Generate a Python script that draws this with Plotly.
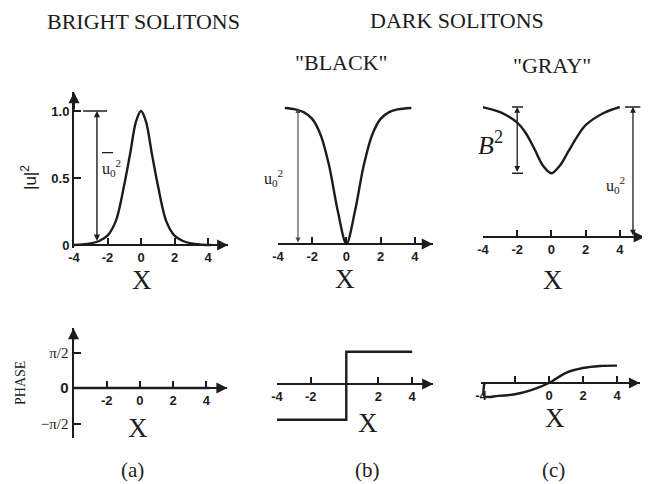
import plotly.graph_objects as go

# the page body has an 8px margin, so the figure is drawn 8px in from the window corner
OFF = 8
W, H = 650 - OFF, 484 - OFF
INK = "#1c1c1c"
SERIF = "Liberation Serif"
SANS = "Liberation Sans"

# |u|^2 profiles
bright_x = [-4.0, -3.5, -3.0, -2.5, -2.0, -1.5, -1.0, -0.65, -0.3, 0.0, 0.3, 0.65, 1.0, 1.5, 2.0, 2.5, 3.0, 3.5, 4.2]
bright_y = [0.0, 0.004, 0.012, 0.03, 0.07, 0.18, 0.45, 0.68, 0.92, 1.0, 0.92, 0.68, 0.45, 0.18, 0.07, 0.03, 0.012, 0.004, 0.0]

black_x = [-3.6, -3.0, -2.5, -2.0, -1.5, -1.0, -0.5, 0.0, 0.5, 1.0, 1.5, 2.0, 2.5, 3.0, 3.8]
black_y = [1.0, 0.99, 0.97, 0.92, 0.8, 0.57, 0.24, 0.0, 0.24, 0.57, 0.8, 0.92, 0.97, 0.99, 1.0]

gray_x = [-4.05, -3.0, -2.0, -1.5, -1.0, -0.5, 0.0, 0.5, 1.0, 1.5, 2.0, 3.0, 4.0]
gray_y = [1.0, 0.96, 0.88, 0.8, 0.68, 0.55, 0.49, 0.55, 0.66, 0.77, 0.86, 0.95, 1.0]

# phase (in units of pi/2)
phase_a_x = [-4.0, 4.2]
phase_a_y = [0.0, 0.0]
phase_b_x = [-4.0, 0.1, 0.1, 4.0]
phase_b_y = [-1.05, -1.05, 0.95, 0.95]
phase_c_x = [-3.8, -3.8, -3.0, -2.0, -1.0, 0.0, 1.0, 2.0, 3.0, 4.0]
phase_c_y = [0.0, -0.39, -0.38, -0.33, -0.2, 0.0, 0.3, 0.44, 0.5, 0.51]

U0_SQ = 1.0
B_SQ = 0.51

# tick labels
ticks_full = [-4, -2, 0, 2, 4]
ticks_full_text = ["-4", "-2", "0", "2", "4"]
ticks_pa = [-2, 0, 2, 4]
ticks_pa_text = ["-2", "0", "2", "4"]
ticks_pb = [-4, -2, 2, 4]
ticks_pb_text = ["-4", "-2", "2", "4"]
ticks_pc_text = ["-4", "", "0", "2", "4"]
amp_ticks = [0, 0.5, 1.0]
amp_ticks_text = ["0", "0.5", "1.0"]
phase_ticks = [-1, 0, 1]
phase_ticks_text = ["<span style='font-family:Liberation Serif;font-weight:normal'>−π/2</span>", "0",
                    "<span style='font-family:Liberation Serif;font-weight:normal'>π/2</span>"]

# panel geometry (reference px): px of x=-4, px per x unit, x range, px of y=0, px per y unit, y range
PANELS = [
    ("", dict(x0=74, xu=16.75, xr=(-4, 5.2), y0=245, yu=134, yr=(-0.02, 1.14))),
    ("2", dict(x0=278, xu=17.1, xr=(-4, 5.05), y0=244, yu=136, yr=(-0.04, 1.06))),
    ("3", dict(x0=483, xu=17.1, xr=(-4, 5.45), y0=237, yu=130, yr=(-0.04, 1.06))),
    ("4", dict(x0=73.5, xu=16.6, xr=(-4, 5.27), y0=388, yu=35.5, yr=(-1.4, 1.68))),
    ("5", dict(x0=277, xu=16.9, xr=(-4, 5.24), y0=384, yu=34, yr=(-1.2, 1.1))),
    ("6", dict(x0=481, xu=17, xr=(-4, 5.35), y0=383, yu=34, yr=(-0.6, 0.7))),
]


def fx(px):
    return (px - OFF) / W


def fy(py):
    return 1 - (py - OFF) / H


tickfont = dict(family=SANS, size=13, color=INK, weight="bold")

fig = go.Figure()
layout = {}
for n, g in PANELS:
    xd = [fx(g["x0"] + (g["xr"][0] + 4) * g["xu"]), fx(g["x0"] + (g["xr"][1] + 4) * g["xu"])]
    yd = [fy(g["y0"] - g["yr"][0] * g["yu"]), fy(g["y0"] - g["yr"][1] * g["yu"])]
    layout["xaxis" + n] = dict(domain=xd, range=list(g["xr"]), anchor="free", position=fy(g["y0"]),
                               showline=True, linewidth=2, linecolor=INK, ticks="inside", ticklen=6,
                               tickwidth=2, tickcolor=INK, showgrid=False, zeroline=False,
                               tickfont=tickfont, tickmode="array")
    layout["yaxis" + n] = dict(domain=yd, range=list(g["yr"]), anchor="x" + n, visible=False,
                               showgrid=False, zeroline=False)

layout["xaxis"].update(tickvals=ticks_full, ticktext=ticks_full_text)
layout["xaxis2"].update(tickvals=ticks_full, ticktext=ticks_full_text)
layout["xaxis3"].update(tickvals=ticks_full, ticktext=ticks_full_text)
layout["xaxis4"].update(tickvals=ticks_pa, ticktext=ticks_pa_text)
layout["xaxis5"].update(tickvals=ticks_pb, ticktext=ticks_pb_text)
layout["xaxis6"].update(tickvals=ticks_full, ticktext=ticks_pc_text)
for k, tv, tt, fs in [("yaxis", amp_ticks, amp_ticks_text, 13), ("yaxis4", phase_ticks, phase_ticks_text, 15)]:
    layout[k].update(visible=True, showline=True, linewidth=2, linecolor=INK, ticks="inside",
                     ticklen=7, tickwidth=2, tickcolor=INK, tickmode="array", tickvals=tv,
                     ticktext=tt, tickfont=dict(family=SANS, size=fs, color=INK, weight="bold"))

curves = [("", bright_x, bright_y, "spline"), ("2", black_x, black_y, "spline"),
          ("3", gray_x, gray_y, "spline"), ("4", phase_a_x, phase_a_y, "linear"),
          ("5", phase_b_x, phase_b_y, "linear"), ("6", phase_c_x, phase_c_y, "spline")]
for n, xs, ys, shp in curves:
    fig.add_trace(go.Scatter(x=xs, y=ys, mode="lines", xaxis="x" + n, yaxis="y" + n,
                             line=dict(color=INK, width=2.4, shape=shp, smoothing=0.9),
                             showlegend=False, hoverinfo="skip"))

ann = []
shapes = []


def arrow(n, tip, tail, both=False, width=2.0, size=1.0, color=INK):
    ann.append(dict(x=tip[0], y=tip[1], ax=tail[0], ay=tail[1], xref="x" + n, yref="y" + n,
                    axref="x" + n, ayref="y" + n, text="", showarrow=True, arrowhead=2,
                    startarrowhead=2, arrowside="end+start" if both else "end",
                    arrowsize=size, startarrowsize=size, arrowwidth=width, arrowcolor=color,
                    standoff=0, startstandoff=0))


def bar(n, x0, x1, y0, y1, width=1.5):
    shapes.append(dict(type="line", xref="x" + n, yref="y" + n, x0=x0, x1=x1, y0=y0, y1=y1,
                       line=dict(color=INK, width=width)))


def text(s, px, py, size, family=SERIF, angle=0, color=INK):
    ann.append(dict(x=fx(px), y=fy(py), xref="paper", yref="paper", text=s, showarrow=False,
                    font=dict(family=family, size=size, color=color), textangle=angle,
                    xanchor="center", yanchor="middle"))


# axis arrowheads
for n, g in PANELS:
    arrow(n, (g["xr"][1], 0), (g["xr"][1] - 0.5, 0), width=2, size=1.1)
arrow("", (-4, 1.14), (-4, 1.0), width=2, size=1.1)
arrow("4", (-4, 1.68), (-4, 1.3), width=2, size=1.1)

# dimension arrows
arrow("", (-2.63, U0_SQ), (-2.63, 0.02), both=True, width=1.4, size=0.9)
bar("", -3.46, -2.03, U0_SQ, U0_SQ)
bar("", -2.33, -1.67, 0.69, 0.69, width=1.2)
arrow("2", (-2.83, U0_SQ), (-2.83, 0.0), both=True, width=1.1, size=0.9, color="#444")
arrow("3", (-2.0, U0_SQ), (-2.0, U0_SQ - B_SQ), both=True, width=1.3, size=0.9)
bar("3", -2.3, -1.66, U0_SQ, U0_SQ)
bar("3", -2.3, -1.66, U0_SQ - B_SQ, U0_SQ - B_SQ)
arrow("3", (4.77, U0_SQ), (4.77, 0.0), both=True, width=1.3, size=0.9)
bar("3", 4.3, 5.2, U0_SQ, U0_SQ)

# text
text("BRIGHT SOLITONS", 143, 21, 22)
text("DARK SOLITONS", 457, 20, 22)
text('"BLACK"', 342, 62, 22)
text('"GRAY"', 552, 65, 22)
text("|u|<sup>2</sup>", 29, 177, 17, family=SANS, angle=-90)
text("PHASE", 20, 383, 14, angle=-90)
text("u<sub>0</sub><sup>2</sup>", 111, 168, 16)
text("u<sub>0</sub><sup>2</sup>", 273, 178, 16)
text("u<sub>0</sub><sup>2</sup>", 615, 185, 16)
text("<i>B</i><sup>2</sup>", 490, 143, 26)
for px, py in [(142, 280), (345, 279), (553, 280), (138, 428), (368, 423), (555, 418)]:
    text("X", px, py, 27)
text("(a)", 132, 470, 21)
text("(b)", 367, 470, 21)
text("(c)", 553, 470, 21)

fig.update_layout(**layout)
fig.update_layout(width=W, height=H, autosize=False, template="none",
                  margin=dict(l=0, r=0, t=0, b=0), paper_bgcolor="white", plot_bgcolor="rgba(0,0,0,0)",
                  annotations=ann, shapes=shapes, showlegend=False)
fig.write_html("out.html", config={"displayModeBar": False})
